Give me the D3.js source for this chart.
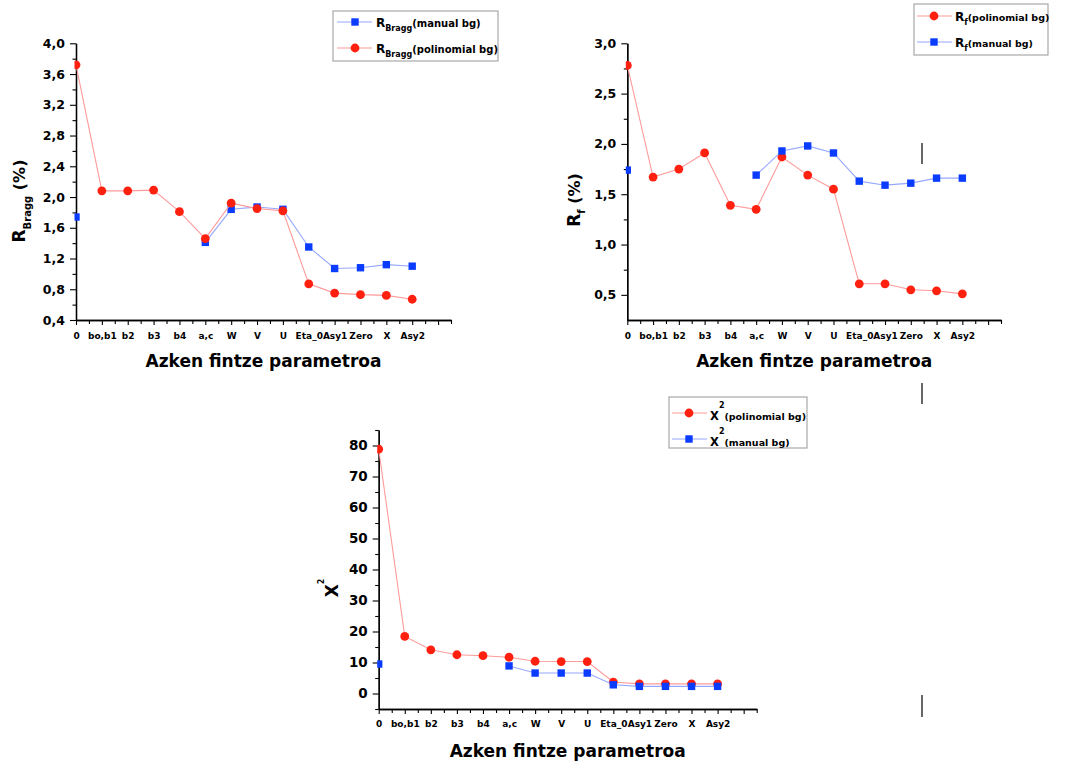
<!DOCTYPE html>
<html>
<head>
<meta charset="utf-8">
<script src="https://cdn.jsdelivr.net/npm/d3@7"></script>
<style>
  body { margin: 0; background: #fff; }
  svg { display: block; }
  text { font-family: "DejaVu Sans", "Liberation Sans", sans-serif; font-weight: bold; fill: #000; }
</style>
</head>
<body>
<svg id="chart" width="1065" height="763"></svg>
<script>
// Refinement steps (last parameter added to the fit)
const categories = ["0", "bo,b1", "b2", "b3", "b4", "a,c", "W", "V", "U", "Eta_0", "Asy1", "Zero", "X", "Asy2"];

// R_Bragg (%)
const rBraggManual = [1.74, null, null, null, null, 1.41, 1.84, 1.87, 1.84, 1.35, 1.07, 1.08, 1.12, 1.10];
const rBraggPoly   = [3.72, 2.08, 2.08, 2.09, 1.81, 1.46, 1.92, 1.85, 1.82, 0.87, 0.75, 0.73, 0.72, 0.67];

// R_f (%)
const rfPoly   = [2.78, 1.67, 1.75, 1.91, 1.39, 1.35, 1.87, 1.69, 1.55, 0.61, 0.61, 0.55, 0.54, 0.51];
const rfManual = [1.74, null, null, null, null, 1.69, 1.93, 1.98, 1.91, 1.63, 1.59, 1.61, 1.66, 1.66];

// chi^2
const chi2Poly   = [78.8, 18.4, 14.1, 12.5, 12.2, 11.7, 10.4, 10.3, 10.3, 3.7, 3.1, 3.1, 3.1, 3.1];
const chi2Manual = [9.5, null, null, null, null, 8.9, 6.6, 6.6, 6.6, 2.8, 2.3, 2.3, 2.3, 2.3];

// Y tick values and labels
const rBraggTicks = [0.4, 0.8, 1.2, 1.6, 2.0, 2.4, 2.8, 3.2, 3.6, 4.0];
const rBraggTickLabels = ["0,4", "0,8", "1,2", "1,6", "2,0", "2,4", "2,8", "3,2", "3,6", "4,0"];
const rfTicks = [0.5, 1.0, 1.5, 2.0, 2.5, 3.0];
const rfTickLabels = ["0,5", "1,0", "1,5", "2,0", "2,5", "3,0"];
const chi2Ticks = [0, 10, 20, 30, 40, 50, 60, 70, 80];
const chi2TickLabels = ["0", "10", "20", "30", "40", "50", "60", "70", "80"];

const xTitle = "Azken fintze parametroa";

const RED = "#ff2010", RED_LINE = "#ff9a9a";
const BLUE = "#0a3cff", BLUE_LINE = "#96a8ff";

const svg = d3.select("#chart");

function drawMarker(sel, type, cx, cy, color) {
  if (type === "circle") {
    sel.append("circle").attr("cx", cx).attr("cy", cy).attr("r", 4.4).attr("fill", color);
  } else {
    sel.append("rect").attr("x", cx - 3.7).attr("y", cy - 3.7)
      .attr("width", 7.4).attr("height", 7.4).attr("fill", color);
  }
}

function panel(o) {
  const g = svg.append("g");
  const x = d3.scaleLinear().domain([0, 14.5]).range([o.x0, o.x1]);
  const y = d3.scaleLinear().domain(o.yDomain).range([o.yBottom, o.yTop]);

  // x axis: labelled steps plus half-step minor ticks
  const xMajor = g.append("g").attr("transform", `translate(0,${o.yBottom})`)
    .call(d3.axisBottom(x).tickValues(d3.range(0, 15)).tickSize(5).tickSizeOuter(0)
      .tickPadding(o.xPad).tickFormat(i => categories[i] || ""));
  const xMinor = g.append("g").attr("transform", `translate(0,${o.yBottom})`)
    .call(d3.axisBottom(x).tickValues(d3.range(0.5, 14.6, 1)).tickSize(4).tickSizeOuter(0).tickFormat(""));
  [xMajor, xMinor].forEach(a => {
    a.select(".domain").attr("stroke-width", 1.3);
    a.selectAll(".tick line").attr("stroke-width", 1.1);
  });
  xMajor.selectAll("text").style("font-size", "9px").attr("fill", "#000");

  // y axis
  const yMajor = g.append("g").attr("transform", `translate(${o.x0},0)`)
    .call(d3.axisLeft(y).tickValues(o.ticks).tickFormat((d, i) => o.labels[i])
      .tickSize(6).tickSizeOuter(0).tickPadding(5));
  const yMinor = g.append("g").attr("transform", `translate(${o.x0},0)`)
    .call(d3.axisLeft(y).tickValues(o.minor).tickSize(3.5).tickSizeOuter(0).tickFormat(""));
  [yMajor, yMinor].forEach(a => {
    a.select(".domain").attr("stroke-width", 1.3);
    a.selectAll(".tick line").attr("stroke-width", 1.1);
  });
  yMajor.selectAll("text").style("font-size", o.yFont + "px").attr("fill", "#000");

  // plotted series (clipped at the y axis)
  const clipId = "clip" + o.id;
  svg.append("clipPath").attr("id", clipId).append("rect")
    .attr("x", o.x0 - 1.5).attr("y", 0).attr("width", o.x1 - o.x0 + 10).attr("height", 763);
  const plot = g.append("g").attr("clip-path", `url(#${clipId})`);
  o.series.forEach(s => {
    const pts = s.values.map((v, i) => ({ i, v }));
    const line = d3.line().defined(d => d.v != null).x(d => x(d.i)).y(d => y(d.v));
    plot.append("path").attr("d", line(pts)).attr("fill", "none")
      .attr("stroke", s.line).attr("stroke-width", 1.1);
    const mk = plot.append("g");
    pts.filter(d => d.v != null).forEach(d => drawMarker(mk, s.marker, x(d.i), y(d.v), s.color));
  });

  // x title
  g.append("text").attr("x", (o.x0 + o.x1) / 2).attr("y", o.yBottom + o.titleGap)
    .attr("text-anchor", "middle").style("font-size", "17px").text(xTitle);

  // y title (rotated)
  const yt = g.append("text").attr("text-anchor", "middle")
    .attr("transform", `translate(${o.yTitle[0]},${o.yTitle[1]}) rotate(-90)`);
  o.yTitleParts.forEach(p => {
    const t = yt.append("tspan").style("font-size", p.size + "px").text(p.text);
    if (p.dy) t.attr("dy", p.dy);
  });

  // legend
  const L = o.legend;
  const lg = g.append("g");
  lg.append("rect").attr("x", L.x).attr("y", L.y).attr("width", L.w).attr("height", L.h)
    .attr("fill", "#fff").attr("stroke", "#a8a8a8").attr("stroke-width", 1.2);
  o.series.forEach((s, k) => {
    const ry = L.rows[k];
    lg.append("line").attr("x1", L.lx[0]).attr("x2", L.lx[1]).attr("y1", ry).attr("y2", ry)
      .attr("stroke", s.line).attr("stroke-width", 1.1);
    drawMarker(lg, s.marker, L.mx, ry, s.color);
    const t = lg.append("text").attr("x", L.tx).attr("y", ry + L.base);
    s.legendParts.forEach(p => {
      const ts = t.append("tspan").style("font-size", p.size + "px").text(p.text);
      if (p.dy) ts.attr("dy", p.dy);
    });
  });
}

function minorTicks(lo, hi, step) {
  const out = [];
  for (let v = lo; v <= hi + 1e-9; v += step) out.push(+v.toFixed(4));
  return out;
}

panel({
  id: 1, x0: 76, x1: 451, yTop: 43.3, yBottom: 320, yDomain: [0.4, 4.0],
  ticks: rBraggTicks, labels: rBraggTickLabels, minor: minorTicks(0.6, 3.8, 0.4),
  yFont: 12.5, xPad: 7.6, titleGap: 47,
  yTitle: [25, 201],
  yTitleParts: [{ text: "R", size: 17 }, { text: "Bragg", size: 10, dy: 6 }, { text: " (%)", size: 16, dy: -6 }],
  legend: { x: 333, y: 11, w: 165, h: 50, rows: [22, 48], lx: [337, 372], mx: 355, tx: 376, base: 5 },
  series: [
    { values: rBraggManual, color: BLUE, line: BLUE_LINE, marker: "square",
      legendParts: [{ text: "R", size: 12 }, { text: "Bragg", size: 8, dy: 4 }, { text: "(manual bg)", size: 10, dy: -4 }] },
    { values: rBraggPoly, color: RED, line: RED_LINE, marker: "circle",
      legendParts: [{ text: "R", size: 12 }, { text: "Bragg", size: 8, dy: 4 }, { text: "(polinomial bg)", size: 10, dy: -4 }] }
  ]
});

panel({
  id: 2, x0: 627.3, x1: 1001, yTop: 43.3, yBottom: 320, yDomain: [0.25, 3.0],
  ticks: rfTicks, labels: rfTickLabels, minor: minorTicks(0.75, 2.75, 0.5),
  yFont: 12.5, xPad: 7.6, titleGap: 47,
  yTitle: [580, 200],
  yTitleParts: [{ text: "R", size: 17 }, { text: "f", size: 10, dy: 5 }, { text: " (%)", size: 16, dy: -5 }],
  legend: { x: 914, y: 4, w: 134, h: 51, rows: [16, 42], lx: [917, 952], mx: 934, tx: 955, base: 5 },
  series: [
    { values: rfPoly, color: RED, line: RED_LINE, marker: "circle",
      legendParts: [{ text: "R", size: 12 }, { text: "f", size: 8, dy: 4 }, { text: "(polinomial bg)", size: 9.5, dy: -4 }] },
    { values: rfManual, color: BLUE, line: BLUE_LINE, marker: "square",
      legendParts: [{ text: "R", size: 12 }, { text: "f", size: 8, dy: 4 }, { text: "(manual bg)", size: 9.5, dy: -4 }] }
  ]
});

panel({
  id: 3, x0: 378.7, x1: 756.7, yTop: 430, yBottom: 709, yDomain: [-5, 85],
  ticks: chi2Ticks, labels: chi2TickLabels, minor: minorTicks(-5, 85, 10),
  yFont: 13.5, xPad: 6.6, titleGap: 48,
  yTitle: [338, 588],
  yTitleParts: [{ text: "X", size: 17 }, { text: "2", size: 8, dy: -14 }],
  legend: { x: 669, y: 397, w: 138, h: 51, rows: [413, 439], lx: [672, 707], mx: 689, tx: 710, base: 7 },
  series: [
    { values: chi2Poly, color: RED, line: RED_LINE, marker: "circle",
      legendParts: [{ text: "X", size: 11.5 }, { text: "2", size: 8, dy: -12 }, { text: "(polinomial bg)", size: 9.5, dy: 12 }] },
    { values: chi2Manual, color: BLUE, line: BLUE_LINE, marker: "square",
      legendParts: [{ text: "X", size: 11.5 }, { text: "2", size: 8, dy: -12 }, { text: "(manual bg)", size: 9.5, dy: 12 }] }
  ]
});

// small vertical strokes on the right-hand side of the page
[[143, 164], [383, 404], [695, 717]].forEach(([a, b]) => {
  svg.append("line").attr("x1", 922).attr("x2", 922).attr("y1", a).attr("y2", b)
    .attr("stroke", "#000").attr("stroke-width", 1.2);
});
</script>
</body>
</html>
